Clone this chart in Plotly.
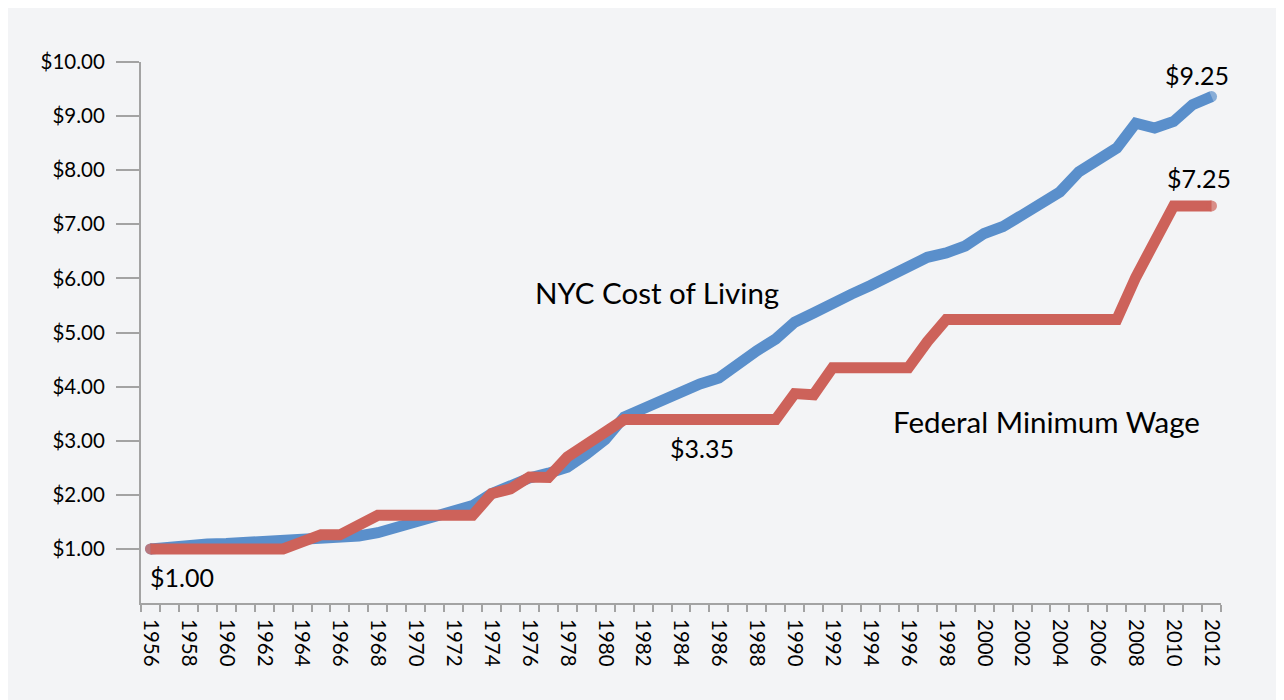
import plotly.graph_objects as go

years = list(range(1956, 2013))

nyc_cost_of_living = [
    1.00, 1.04, 1.07, 1.09, 1.10, 1.12, 1.14, 1.16, 1.17, 1.17,
    1.20, 1.24, 1.30, 1.40, 1.49, 1.59, 1.69, 1.80, 2.02, 2.18,
    2.31, 2.40, 2.51, 2.75, 3.02, 3.44, 3.60, 3.77, 3.94, 4.05,
    4.16, 4.44, 4.66, 4.88, 5.19, 5.36, 5.55, 5.71, 5.87, 6.04,
    6.26, 6.39, 6.47, 6.60, 6.83, 6.96, 7.17, 7.39, 7.60, 7.97,
    8.22, 8.41, 8.87, 8.78, 8.90, 9.21, 9.36,
]

federal_min_wage = [
    1.00, 1.00, 1.00, 1.00, 1.00, 1.00, 1.00, 1.00, 1.13, 1.26,
    1.26, 1.43, 1.62, 1.62, 1.62, 1.62, 1.62, 1.62, 2.02, 2.11,
    2.33, 2.32, 2.70, 2.94, 3.16, 3.39, 3.39, 3.39, 3.39, 3.39,
    3.39, 3.39, 3.39, 3.39, 3.87, 3.85, 4.35, 4.35, 4.35, 4.35,
    4.35, 4.83, 5.24, 5.24, 5.24, 5.24, 5.24, 5.24, 5.24, 5.24,
    5.24, 5.24, 6.02, 6.72, 7.34, 7.34, 7.34,
]

y_tick_values = [1, 2, 3, 4, 5, 6, 7, 8, 9, 10]
y_tick_labels = ["$1.00", "$2.00", "$3.00", "$4.00", "$5.00",
                 "$6.00", "$7.00", "$8.00", "$9.00", "$10.00"]
x_tick_years = list(range(1956, 2013, 2))

BLUE = "#5a8fcb"
RED = "#cd625a"
BG = "#f3f4f6"
AXIS = "#a3a3a3"
FONT = "Lato"
LW = 11


def end_caps(n):
    return [LW] + [0] * (n - 2) + [LW]


fig = go.Figure()

fig.add_trace(go.Scatter(
    x=years, y=nyc_cost_of_living, mode="lines+markers",
    line=dict(color=BLUE, width=LW),
    marker=dict(size=end_caps(len(years)), color=BLUE, line=dict(width=0)),
    name="NYC Cost of Living", hoverinfo="x+y",
))
fig.add_trace(go.Scatter(
    x=years, y=federal_min_wage, mode="lines+markers",
    line=dict(color=RED, width=LW),
    marker=dict(size=end_caps(len(years)), color=RED, line=dict(width=0)),
    name="Federal Minimum Wage", hoverinfo="x+y",
))

annots = [
    dict(text="NYC Cost of Living", x=1982.73, y=5.74, size=29.5),
    dict(text="Federal Minimum Wage", x=2003.31, y=3.36, size=29.5),
    dict(text="$3.35", x=1985.1, y=2.86, size=25),
    dict(text="$9.25", x=2011.22, y=9.76, size=25),
    dict(text="$7.25", x=2011.33, y=7.85, size=25),
    dict(text="$1.00", x=1957.66, y=0.48, size=25),
]
for a in annots:
    fig.add_annotation(
        text=a["text"], x=a["x"], y=a["y"], xref="x", yref="y",
        showarrow=False, xanchor="center", yanchor="middle",
        font=dict(family=FONT, size=a["size"], color="#000000"),
    )

W, H = 1276, 692
fig.update_layout(
    width=W, height=H,
    margin=dict(l=133, r=63, t=54, b=97, pad=0),
    paper_bgcolor=BG,
    plot_bgcolor=BG,
    showlegend=False,
    font=dict(family=FONT, color="#000000"),
)

fig.update_xaxes(
    range=[1955.5, 2012.5],
    tickmode="array", tickvals=x_tick_years,
    ticktext=[str(y) for y in x_tick_years],
    tickangle=90,
    ticks="outside", ticklen=7, tickcolor="rgba(0,0,0,0)",
    ticklabelstandoff=3,
    tickfont=dict(family=FONT, size=20.5, color="#000000"),
    showline=True, linecolor=AXIS, linewidth=2,
    showgrid=False, zeroline=False,
    minor=dict(tickmode="linear", tick0=1955.5, dtick=1, ticks="outside",
               ticklen=7, tickwidth=2, tickcolor=AXIS, showgrid=False),
)

fig.update_yaxes(
    range=[0, 10],
    tickmode="array", tickvals=y_tick_values, ticktext=y_tick_labels,
    ticks="outside", ticklen=23, tickwidth=2, tickcolor=AXIS,
    ticklabelstandoff=7,
    tickfont=dict(family=FONT, size=20.5, color="#000000"),
    showline=True, linecolor=AXIS, linewidth=2,
    showgrid=False, zeroline=False,
)

fig.write_html("out.html")
